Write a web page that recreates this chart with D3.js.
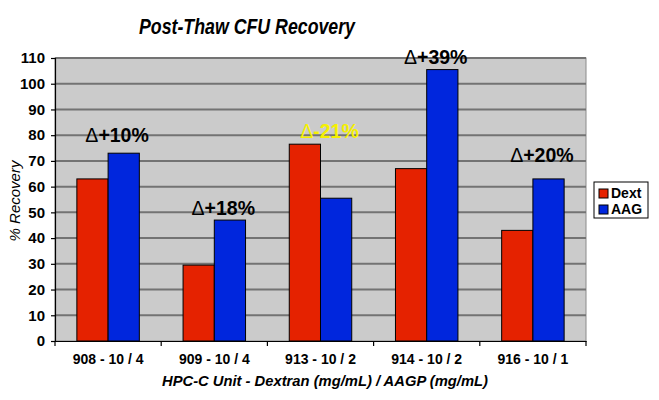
<!DOCTYPE html>
<html>
<head>
<meta charset="utf-8">
<script src="https://cdn.jsdelivr.net/npm/d3@7"></script>
<style>
  body { margin: 0; background: #fff; }
  svg { display: block; font-family: "Liberation Sans", Arial, sans-serif; }
</style>
</head>
<body>
<div id="viz-container"></div>
<script>
// chart data
const categories = ["908 - 10 / 4", "909 - 10 / 4", "913 - 10 / 2", "914 - 10 / 2", "916 - 10 / 1"];
const seriesNames = ["Dext", "AAG"];
const dextValues = [63, 29.5, 76.5, 67, 43];
const aagValues = [73, 47, 55.5, 105.5, 63];
const deltaLabels = ["+10%", "+18%", "-21%", "+39%", "+20%"];
const deltaLabelAt = [77.2, 49, 78.8, 107.6, 69.4];
const yTicks = [0, 10, 20, 30, 40, 50, 60, 70, 80, 90, 100, 110];

const width = 659, height = 400;
const margin = { top: 58, right: 73, bottom: 59, left: 55 };
const plotW = width - margin.left - margin.right;
const plotH = height - margin.top - margin.bottom;

const colors = { Dext: "#e52200", AAG: "#0026dd" };

const svg = d3.select("#viz-container").append("svg")
    .attr("width", width)
    .attr("height", height);

const g = svg.append("g")
    .attr("transform", `translate(${margin.left},${margin.top})`);

const x = d3.scaleBand()
    .domain(categories)
    .range([0, plotW])
    .paddingInner(0)
    .paddingOuter(0);

const xInner = d3.scaleBand()
    .domain(seriesNames)
    .range([0, x.bandwidth()])
    .paddingInner(0)
    .paddingOuter(0.7);

const y = d3.scaleLinear()
    .domain([0, 110])
    .range([plotH, 0]);

// plot background
g.append("rect")
    .attr("width", plotW)
    .attr("height", plotH)
    .attr("fill", "#cbcbcb")
    .attr("stroke", "#8a8a8a")
    .attr("stroke-width", 1);

// grid lines
g.append("g")
    .selectAll("line")
    .data(yTicks.filter(d => d > 0))
    .enter()
    .append("line")
    .attr("x1", 0)
    .attr("x2", plotW)
    .attr("y1", d => y(d))
    .attr("y2", d => y(d))
    .attr("stroke", "#737373")
    .attr("stroke-width", 2);

// bars
const rows = categories.map((c, i) => ({ cat: c, values: [
    { key: "Dext", value: dextValues[i] },
    { key: "AAG", value: aagValues[i] }
]}));

const groups = g.selectAll(".group")
    .data(rows)
    .enter()
    .append("g")
    .attr("class", "group")
    .attr("transform", d => `translate(${x(d.cat)},0)`);

groups.selectAll("rect")
    .data(d => d.values)
    .enter()
    .append("rect")
    .attr("x", d => xInner(d.key))
    .attr("y", d => y(d.value))
    .attr("width", xInner.bandwidth())
    .attr("height", d => plotH - y(d.value))
    .attr("fill", d => colors[d.key])
    .attr("stroke", "#000")
    .attr("stroke-width", 1);

// delta labels
const deltas = g.selectAll(".delta")
    .data(categories)
    .enter()
    .append("text")
    .attr("class", "delta")
    .attr("x", d => x(d) + x.bandwidth() / 2 + 9)
    .attr("y", (d, i) => y(deltaLabelAt[i]))
    .attr("text-anchor", "middle")
    .style("font-size", "19.5px")
    .style("fill", (d, i) => i === 2 ? "#f5f000" : "#000");
deltas.append("tspan")
    .style("font-weight", "normal")
    .text("\u0394");
deltas.append("tspan")
    .style("font-weight", "bold")
    .text((d, i) => deltaLabels[i]);

// y axis
const yAxis = g.append("g")
    .call(d3.axisLeft(y).tickValues(yTicks).tickSize(4).tickPadding(6));
yAxis.selectAll("text")
    .style("font-size", "15px")
    .style("font-weight", "bold")
    .style("fill", "#000");
yAxis.selectAll(".domain, .tick line")
    .attr("stroke", "#000")
    .attr("stroke-width", 1.2);

// x axis
const xAxis = g.append("g")
    .attr("transform", `translate(0,${plotH})`)
    .call(d3.axisBottom(x).tickSize(0).tickPadding(13));
xAxis.selectAll("text")
    .style("font-size", "14px")
    .style("font-weight", "bold")
    .style("fill", "#000");
xAxis.select(".domain")
    .attr("stroke", "#000")
    .attr("stroke-width", 1.2);
xAxis.selectAll(".sep")
    .data(d3.range(categories.length + 1))
    .enter()
    .append("line")
    .attr("class", "sep")
    .attr("x1", i => i * x.bandwidth())
    .attr("x2", i => i * x.bandwidth())
    .attr("y1", 0)
    .attr("y2", 5)
    .attr("stroke", "#000")
    .attr("stroke-width", 1.2);

// title
svg.append("text")
    .attr("x", 247)
    .attr("y", 34)
    .attr("text-anchor", "middle")
    .attr("textLength", 216)
    .attr("lengthAdjust", "spacingAndGlyphs")
    .style("font-size", "22px")
    .style("font-weight", "bold")
    .style("font-style", "italic")
    .text("Post-Thaw CFU Recovery");

// axis titles
svg.append("text")
    .attr("transform", `translate(20,201) rotate(-90)`)
    .attr("text-anchor", "middle")
    .style("font-size", "15px")
    .style("font-style", "italic")
    .text("% Recovery");

svg.append("text")
    .attr("x", 325)
    .attr("y", 386)
    .attr("text-anchor", "middle")
    .attr("textLength", 326)
    .attr("lengthAdjust", "spacingAndGlyphs")
    .style("font-size", "14.5px")
    .style("font-weight", "bold")
    .style("font-style", "italic")
    .text("HPC-C Unit - Dextran (mg/mL) / AAGP (mg/mL)");

// legend
const legend = svg.append("g")
    .attr("transform", "translate(594,182)");
legend.append("rect")
    .attr("width", 54)
    .attr("height", 36)
    .attr("fill", "#fff")
    .attr("stroke", "#000")
    .attr("stroke-width", 1);
seriesNames.forEach((name, i) => {
    legend.append("rect")
        .attr("x", 5)
        .attr("y", 7 + i * 16)
        .attr("width", 9)
        .attr("height", 9)
        .attr("fill", colors[name])
        .attr("stroke", "#000")
        .attr("stroke-width", 1);
    legend.append("text")
        .attr("x", 17)
        .attr("y", 16 + i * 16)
        .style("font-size", "14px")
        .style("font-weight", "bold")
        .text(name);
});
</script>
</body>
</html>
